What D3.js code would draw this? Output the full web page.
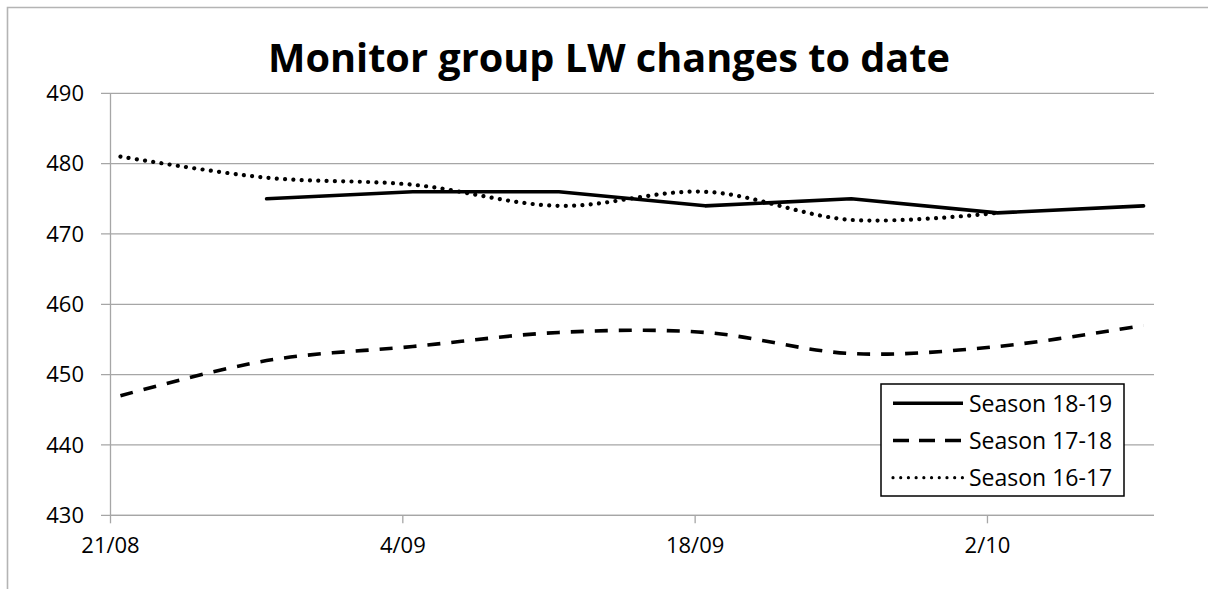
<!DOCTYPE html>
<html><head><meta charset="utf-8">
<script src="https://cdn.jsdelivr.net/npm/d3@7"></script>
<style>body{margin:0;background:#fff}svg{display:block}</style>
</head><body>
<svg id="c" width="1208" height="589"></svg>
<script>
const title = "Monitor group LW changes to date";
const dates = ["2018-08-21","2018-08-28","2018-09-04","2018-09-11","2018-09-18","2018-09-25","2018-10-02","2018-10-09"];
const season1819 = [null,475,476,476,474,475,473,474];
const season1718 = [447,452,454,456,456,453,454,457];
const season1617 = [481,478,477,474,476,472,473,null];
const seriesNames = ["Season 18-19","Season 17-18","Season 16-17"];
const yTicks = [430,440,450,460,470,480,490];
const xTickLabels = ["21/08","4/09","18/09","2/10"];
const xTickDates = ["2018-08-21","2018-09-04","2018-09-18","2018-10-02"];

const parse = d3.utcParse("%Y-%m-%d");
const svg = d3.select("#c");
const L=110, R=1154, T=93.3, B=515.3;
const x = d3.scaleUtc().domain([parse("2018-08-21"), parse("2018-10-10")]).range([L,R]);
const y = d3.scaleLinear().domain([430,490]).range([B,T]);
const mid = d => d3.utcHour.offset(parse(d), 12);
const font = "'Open Sans', sans-serif";

// frame
svg.append("path").attr("d","M7.5,589 V7.5 H1208").attr("fill","none").attr("stroke","#b4b4b4").attr("stroke-width",1.6);

// gridlines
svg.append("g").selectAll("line").data(yTicks).join("line")
  .attr("x1",L-9).attr("x2",R).attr("y1",d=>y(d)).attr("y2",d=>y(d))
  .attr("stroke","#a6a6a6").attr("stroke-width",1.3);

// y axis
const ya = svg.append("g").attr("transform",`translate(${L},0)`)
  .call(d3.axisLeft(y).tickValues(yTicks).tickSize(0).tickPadding(26));
ya.select(".domain").attr("stroke","#a6a6a6").attr("stroke-width",1.3);
ya.selectAll("text").attr("font-family",font).attr("font-size",22).attr("fill","#000");

// x axis
const xa = svg.append("g").attr("transform",`translate(0,${B})`)
  .call(d3.axisBottom(x).tickValues(xTickDates.map(parse)).tickSize(8).tickPadding(14)
    .tickFormat((d,i)=>xTickLabels[i]));
xa.select(".domain").attr("d",`M${L},0H${R}`).attr("stroke","#a6a6a6").attr("stroke-width",1.3);
xa.selectAll(".tick line").attr("stroke","#a6a6a6").attr("stroke-width",1.3);
xa.selectAll("text").attr("font-family",font).attr("font-size",22).attr("fill","#000");

const styles = [
  {vals:season1819, dash:null, cap:"round", w:3.6, curve:d3.curveLinear},
  {vals:season1718, dash:"13,11", cap:"butt", w:3.6, curve:d3.curveCatmullRom.alpha(0.5)},
  {vals:season1617, dash:"0.01,8.3", cap:"round", w:4.2, curve:d3.curveCatmullRom.alpha(0.5)}
];
styles.forEach(s=>{
  const pts = dates.map((d,i)=>({d:mid(d), v:s.vals[i]})).filter(p=>p.v!=null);
  svg.append("path").datum(pts)
    .attr("d", d3.line().x(p=>x(p.d)).y(p=>y(p.v)).curve(s.curve))
    .attr("fill","none").attr("stroke","#000").attr("stroke-width",s.w)
    .attr("stroke-linecap",s.cap).attr("stroke-linejoin","round")
    .attr("stroke-dasharray",s.dash);
});

// legend
const lg = svg.append("g");
lg.append("rect").attr("x",881).attr("y",384).attr("width",243).attr("height",112)
  .attr("fill","#fff").attr("stroke","#000").attr("stroke-width",1.5);
const legStyles = [
  {dash:null,cap:"butt",w:3.4},
  {dash:"16,10",cap:"butt",w:3.6},
  {dash:"0.01,7.7",cap:"round",w:3.2}
];
seriesNames.forEach((n,i)=>{
  const cy = 403.3 + i*37.2;
  lg.append("line").attr("x1",893).attr("x2",963).attr("y1",cy).attr("y2",cy)
    .attr("stroke","#000").attr("stroke-width",legStyles[i].w)
    .attr("stroke-linecap",legStyles[i].cap).attr("stroke-dasharray",legStyles[i].dash);
  lg.append("text").attr("x",969).attr("y",cy).attr("dy","0.36em")
    .attr("font-family",font).attr("font-size",23).attr("fill","#000").text(n);
});

// title
svg.append("text").attr("x",609).attr("y",72).attr("text-anchor","middle")
  .attr("font-family",font).attr("font-weight","bold").attr("font-size",40)
  .attr("textLength",682).attr("lengthAdjust","spacingAndGlyphs").attr("fill","#000").text(title);
</script>
</body></html>
